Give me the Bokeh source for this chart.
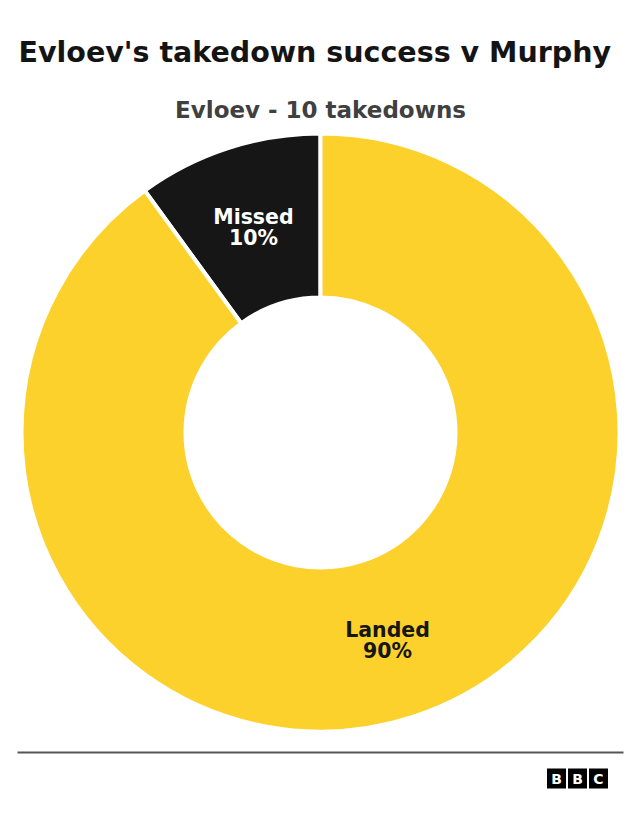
import numpy as np
from bokeh.plotting import figure
from bokeh.models import Range1d, ColumnDataSource
from bokeh.core.properties import value
from bokeh.embed import file_html
from bokeh.resources import INLINE

# ---- data ----
categories = ["Missed", "Landed"]
counts = [1, 9]
colors = ["#161616", "#FCD12C"]
label_colors = ["#FFFFFF", "#161616"]
title = "Evloev's takedown success v Murphy"
subtitle = "Evloev - 10 takedowns"

W, H = 624, 804
FONT = "DejaVu Sans"

p = figure(width=W, height=H, output_backend="svg", toolbar_location=None,
           x_range=Range1d(0, W), y_range=Range1d(0, H), min_border=0,
           background_fill_color="white", border_fill_color="white")
p.axis.visible = False
p.grid.visible = False
p.outline_line_color = None

def Y(py):  # top-down pixel -> data y
    return H - py

def X(px):
    return px

# donut
cx, cy = X(320), Y(432)
r_in, r_out = 135, 299
total = sum(counts)
frac = np.array(counts) / total
ends = np.pi / 2 + np.cumsum(frac) * 2 * np.pi
starts = ends - frac * 2 * np.pi
mids = (starts + ends) / 2
r_lab = (r_in + r_out) / 2
pct = [f"{round(f*100)}%" for f in frac]

src = ColumnDataSource(dict(cat=categories, start=starts, end=ends, color=colors,
                            lx=cx + r_lab * np.cos(mids), ly=cy + r_lab * np.sin(mids),
                            pct=pct, lc=label_colors))
p.annular_wedge(x=cx, y=cy, inner_radius=r_in, outer_radius=r_out,
                start_angle="start", end_angle="end", fill_color="color",
                line_color="white", line_width=4, source=src)

p.text(x="lx", y="ly", text="cat", text_color="lc", source=src, y_offset=-9,
       text_font=value(FONT), text_font_style="bold", text_font_size="20.5px",
       text_align="center", text_baseline="middle")
p.text(x="lx", y="ly", text="pct", text_color="lc", source=src, y_offset=12,
       text_font=value(FONT), text_font_style="bold", text_font_size="20.5px",
       text_align="center", text_baseline="middle")

# title & subtitle
p.text(x=[X(18)], y=[Y(52)], text=[title], text_font=value(FONT), text_font_style="bold",
       text_font_size="28.5px", text_color="#141414", text_align="left", text_baseline="middle")
p.text(x=[X(320)], y=[Y(109)], text=[subtitle], text_font=value(FONT), text_font_style="bold",
       text_font_size="23px", text_color="#404040", text_align="center", text_baseline="middle")

# footer line
p.segment(x0=[X(17)], y0=[Y(752)], x1=[X(623)], y1=[Y(752)], line_color="#555555", line_width=2)

# BBC logo
letters = ["B", "B", "C"]
bx = [X(556), X(577), X(598)]
by = Y(778)
p.rect(x=bx, y=[by] * 3, width=19, height=20, fill_color="black", line_color=None)
p.text(x=bx, y=[by] * 3, text=letters, text_color="white", text_font=value(FONT),
       text_font_style="bold", text_font_size="14px", text_align="center", text_baseline="middle")

open("out.html", "w").write(file_html(p, INLINE))
